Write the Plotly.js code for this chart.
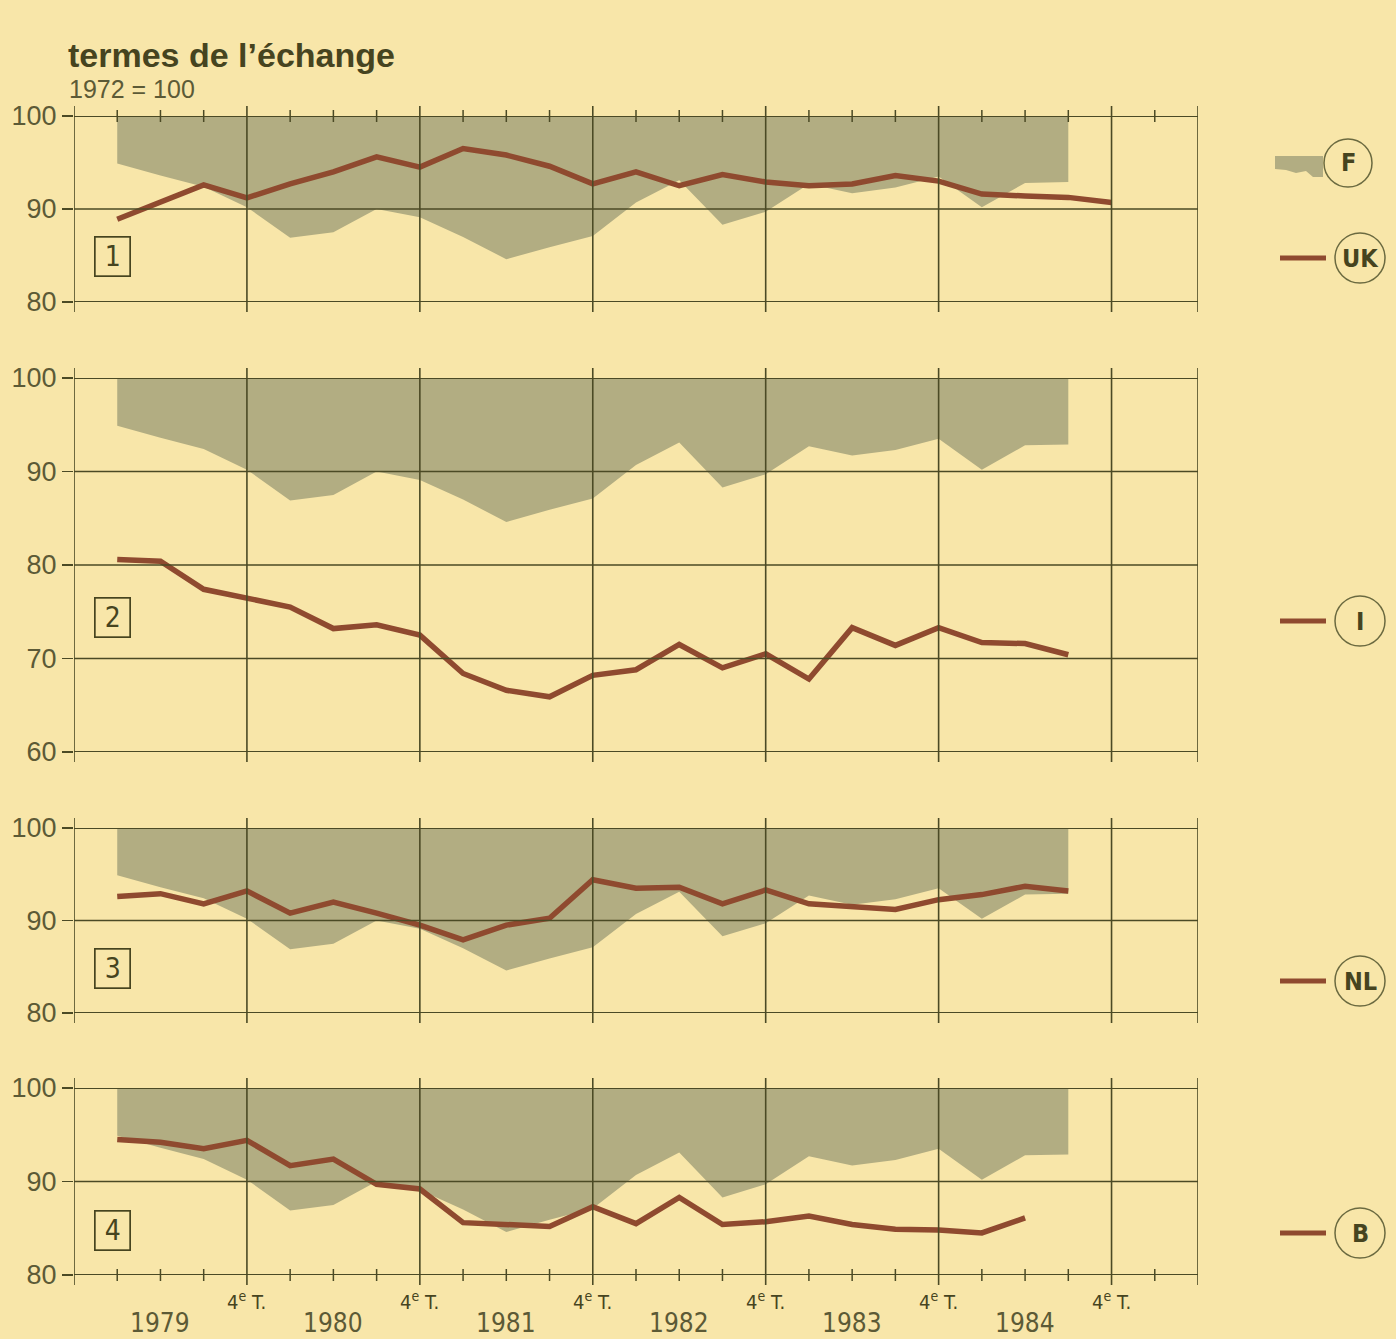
<!DOCTYPE html>
<html><head><meta charset="utf-8">
<script src="https://cdn.plot.ly/plotly-3.0.1.min.js"></script>
<style>html,body{margin:0;padding:0;background:#f8e6a9;}</style>
</head><body><div id="chart" style="width:1396px;height:1339px;"></div>
<script>
// ---- data (quarter index: 1 = 1er T. 1979, 4 = 4e T. 1979, ... 24 = 4e T. 1984) ----
const quarters = [1,2,3,4,5,6,7,8,9,10,11,12,13,14,15,16,17,18,19,20,21,22,23,24];
const seriesF  = [94.9,93.6,92.4,90.2,86.9,87.5,90.0,89.1,87.0,84.6,85.9,87.1,90.7,93.1,88.3,89.7,92.7,91.7,92.3,93.5,90.2,92.8,92.9];
const seriesUK = [88.9,90.8,92.6,91.2,92.7,94.0,95.6,94.5,96.5,95.8,94.6,92.7,94.0,92.5,93.7,92.9,92.5,92.7,93.6,93.0,91.6,91.4,91.25,90.7];
const seriesI  = [80.6,80.4,77.4,76.5,75.5,73.2,73.6,72.5,68.4,66.6,65.9,68.2,68.8,71.5,69.0,70.5,67.8,73.3,71.4,73.3,71.7,71.6,70.4];
const seriesNL = [92.6,92.9,91.8,93.2,90.8,92.0,90.8,89.5,87.9,89.5,90.25,94.4,93.5,93.6,91.8,93.3,91.8,91.5,91.2,92.25,92.8,93.7,93.2];
const seriesB  = [94.5,94.2,93.5,94.4,91.7,92.4,89.7,89.2,85.6,85.4,85.2,87.3,85.5,88.3,85.4,85.7,86.3,85.4,84.9,84.8,84.5,86.1];
const ticksShort = [80,90,100];
const ticksTall  = [60,70,80,90,100];
const countryCodes = ['UK','I','NL','B'];
const panelNumbers = ['1','2','3','4'];
const yearLabels = ['1979','1980','1981','1982','1983','1984'];
const yearPos = [2,6,10,14,18,22];
const quarterLabel = '4<sup>e</sup> T.';
const quarterLabelPos = [4,8,12,16,20,24];
const reference = 100;

// ---- style / geometry ----
const W=1396, H=1339, L=74, R=198;
const plotW = W-L-R;
const BG='#f8e6a9', FILL='#b2ad82', BROWN='#8f4a2f', GRID='#4b4a25', TXT='#5c5a36', DARK='#46441f';
const FONT='Liberation Sans, Arial, sans-serif';
const COND='DejaVu Sans Condensed, Liberation Sans, Arial, sans-serif';
const px2x = px => (px-L)/plotW;
const px2y = py => 1-py/H;

const panels = [
  {vals:seriesUK, top:116, bottom:302, range:[80,100], ticks:ticksShort, legY:258, boxY:256},
  {vals:seriesI,  top:378, bottom:752, range:[60,100], ticks:ticksTall,  legY:621, boxY:617},
  {vals:seriesNL, top:828, bottom:1013,range:[80,100], ticks:ticksShort, legY:981, boxY:968},
  {vals:seriesB,  top:1088,bottom:1275,range:[80,100], ticks:ticksShort, legY:1233,boxY:1230},
];

const data=[], shapes=[], annotations=[];
const layout = {
  width:W, height:H, paper_bgcolor:BG, plot_bgcolor:'rgba(0,0,0,0)',
  margin:{l:L, r:R, t:0, b:0}, showlegend:false,
  font:{family:FONT, color:TXT},
  xaxis:{range:[0,26], domain:[0,1], anchor:'y4', showgrid:false, zeroline:false, showline:false, showticklabels:false, ticks:'', fixedrange:true},
};

const xMax = 26;
const vLines = [0,4,8,12,16,20,24,26];

panels.forEach((p,i)=>{
  const s = i===0 ? '' : String(i+1);
  const yid = 'y'+s;
  const rs = String(i+5);
  const h = p.bottom-p.top;
  const dom = [px2y(p.bottom), px2y(p.top)];
  const baseAxis = {domain:dom, range:p.range, tickvals:p.ticks, ticks:'outside', tickwidth:1.6, tickcolor:GRID,
    showgrid:false, zeroline:false, showline:false, anchor:'x', fixedrange:true,
    tickfont:{family:FONT, size:27, color:TXT}};
  layout['yaxis'+s] = Object.assign({}, baseAxis, {ticklen:11, side:'left'});
  layout['yaxis'+rs] = Object.assign({}, baseAxis, {ticklen:8, side:'right', overlaying:yid, ticklabelstandoff:6});

  const fx = quarters.slice(0, seriesF.length);
  data.push({x:fx, y:seriesF.map(()=>reference), yaxis:yid, xaxis:'x', mode:'lines', line:{width:0, color:FILL}, hoverinfo:'skip'});
  data.push({x:fx, y:seriesF, yaxis:yid, xaxis:'x', mode:'lines', fill:'tonexty', fillcolor:FILL, line:{width:0, color:FILL}, name:'F'});
  data.push({x:quarters.slice(0,p.vals.length), y:p.vals, yaxis:yid, xaxis:'x', mode:'lines',
    line:{color:BROWN, width:5.5, shape:'linear'}, name:countryCodes[i]});

  // horizontal grid lines
  p.ticks.forEach(v=>{
    const edge = (v===p.range[0]||v===p.range[1]);
    shapes.push({type:'line', xref:'x', yref:yid, x0:0, x1:xMax, y0:v, y1:v, layer:'above', line:{color:GRID, width:edge?2:1.4}});
  });
  // vertical lines
  const ext = 10/h;
  vLines.forEach(q=>{
    shapes.push({type:'line', xref:'x', yref:yid+' domain', x0:q, x1:q, y0:-ext, y1:1+ext, layer:'above', line:{color:GRID, width:1.6}});
  });
  // quarter ticks on top of panel 1 and bottom of panel 4
  if(i===0 || i===3){
    const at = i===0 ? 1 : 0;
    const t = 6/h;
    for(let q=1;q<xMax;q++){
      if(q%4===0) continue;
      shapes.push({type:'line', xref:'x', yref:yid+' domain', x0:q, x1:q, y0:at-t, y1:at+t, layer:'above', line:{color:GRID, width:1.5}});
    }
  }
  // panel number box
  annotations.push({xref:'x', yref:'paper', x:0.9, y:px2y(p.boxY), text:panelNumbers[i], showarrow:false,
    font:{family:COND, size:28, color:DARK}, bordercolor:DARK, borderwidth:1.7, borderpad:2, width:30, height:34, xanchor:'center', yanchor:'middle'});

  // legend: line + circled code
  const cx = 1360, r = 25;
  shapes.push({type:'line', xref:'paper', yref:'paper', x0:px2x(1280), x1:px2x(1326), y0:px2y(p.legY), y1:px2y(p.legY), line:{color:BROWN, width:5}});
  shapes.push({type:'circle', xref:'paper', yref:'paper', x0:px2x(cx-r), x1:px2x(cx+r), y0:px2y(p.legY+r), y1:px2y(p.legY-r), line:{color:'#6b6a40', width:1.5}});
  annotations.push({xref:'paper', yref:'paper', x:px2x(cx), y:px2y(p.legY), text:'<b>'+countryCodes[i]+'</b>', showarrow:false,
    font:{family:COND, size:25, color:DARK}, xanchor:'center', yanchor:'middle'});
});

// legend F (shaded swatch)
const fy=163, fcx=1348, fr=24;
const pts=[[1275,156],[1323,156],[1323,177],[1313,177],[1306,171],[1296,173],[1286,170],[1275,169]];
shapes.push({type:'path', xref:'paper', yref:'paper', fillcolor:FILL, line:{width:0},
  path:'M '+pts.map(a=>px2x(a[0])+','+px2y(a[1])).join(' L ')+' Z'});
shapes.push({type:'circle', xref:'paper', yref:'paper', x0:px2x(fcx-fr), x1:px2x(fcx+fr), y0:px2y(fy+fr), y1:px2y(fy-fr), line:{color:'#6b6a40', width:1.5}});
annotations.push({xref:'paper', yref:'paper', x:px2x(fcx), y:px2y(fy), text:'<b>F</b>', showarrow:false,
  font:{family:COND, size:25, color:DARK}, xanchor:'center', yanchor:'middle'});

// x labels
quarterLabelPos.forEach(q=>annotations.push({xref:'x', yref:'paper', x:q, y:px2y(1301), text:quarterLabel, showarrow:false,
  font:{family:COND, size:20, color:DARK}, xanchor:'center', yanchor:'middle'}));
yearLabels.forEach((t,k)=>annotations.push({xref:'x', yref:'paper', x:yearPos[k], y:px2y(1323), text:t, showarrow:false,
  font:{family:COND, size:26, color:TXT}, xanchor:'center', yanchor:'middle'}));

// titles
annotations.push({xref:'paper', yref:'paper', x:px2x(66), y:px2y(55), text:'<b>termes de l’échange</b>', showarrow:false,
  font:{family:FONT, size:34, color:DARK}, xanchor:'left', yanchor:'middle'});
annotations.push({xref:'paper', yref:'paper', x:px2x(67), y:px2y(89), text:'1972 = 100', showarrow:false,
  font:{family:FONT, size:25, color:TXT}, xanchor:'left', yanchor:'middle'});

layout.shapes = shapes;
layout.annotations = annotations;
Plotly.newPlot('chart', data, layout, {displayModeBar:false, staticPlot:true});
</script></body></html>
